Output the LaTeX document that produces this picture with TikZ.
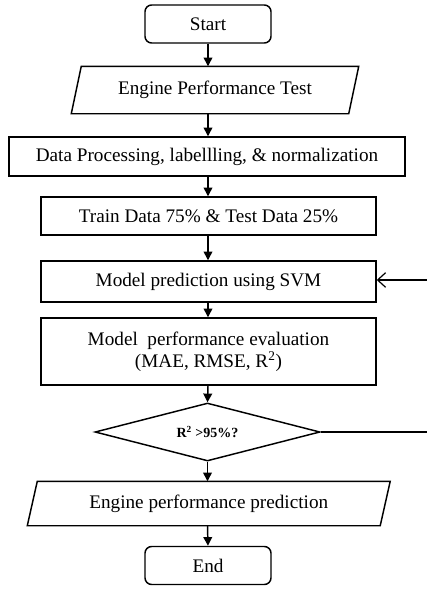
\documentclass[tikz,border=0pt]{standalone}
\usepackage{fontspec}
\setmainfont{Liberation Serif}
\usetikzlibrary{shapes.geometric,arrows.meta,calc}
\begin{document}
\begin{tikzpicture}[x=0.75pt,y=-0.75pt,
  every node/.style={font=\fontsize{14.4}{16.5}\selectfont, inner sep=0pt, line width=1.1pt},
  term/.style={draw, rounded corners=5pt, minimum width=94.5pt, minimum height=28.5pt},
  proc/.style={draw, rectangle},
  io/.style={rectangle, draw=none},
  dec/.style={draw, diamond, aspect=3.88, minimum width=168.75pt, minimum height=43.5pt},
  flow/.style={line width=1.1pt, -{Triangle[length=6.5pt,width=6.5pt]}},
  back/.style={line width=0.8pt},
  backin/.style={line width=0.8pt, -{Straight Barb[length=6pt,width=11pt,line width=0.9pt]}}]
\useasboundingbox (0,0) rectangle (427,590);

\node[term] (start) at (208,24) {Start};
\node[io, minimum width=207pt, minimum height=34.5pt] (ept) at (215,90) {Engine Performance Test};
\draw[line width=1.1pt] ($(ept.north west)+(5,0)$) -- ($(ept.north east)+(5,0)$)
  -- ($(ept.south east)+(-5,0)$) -- ($(ept.south west)+(-5,0)$) -- cycle;
\node[proc, minimum width=297pt, minimum height=29.25pt] (dp) at (207,156.5) {Data Processing, labellling, \& normalization};
\node[proc, minimum width=251.25pt, minimum height=28.5pt] (train) at (208.5,216) {Train Data 75\% \& Test Data 25\%};
\node[proc, minimum width=251.25pt, minimum height=30.75pt] (mp) at (208.5,281.5) {Model prediction using SVM};
\node[proc, align=center, minimum width=251.25pt, minimum height=50.25pt] (mpe) at (208.5,351.5) {Model\ \ performance evaluation\\(MAE, RMSE, R\textsuperscript{2})};
\node[dec, font=\fontsize{10.5}{12}\selectfont\bfseries] (chk) at (207.5,432) {R\textsuperscript{\scriptsize 2} >95\%?};
\node[io, minimum width=263.6pt, minimum height=32.25pt] (epp) at (208.75,503.5) {Engine performance prediction};
\draw[line width=1.1pt] ($(epp.north west)+(5,0)$) -- ($(epp.north east)+(5,0)$)
  -- ($(epp.south east)+(-5,0)$) -- ($(epp.south west)+(-5,0)$) -- cycle;
\node[term] (end) at (208,565.5) {End};

\coordinate (r1) at (427,432);
\coordinate (r2) at (427,280);

\draw[flow] (start.south) -- (start.south |- ept.north);
\draw[flow] (start.south |- ept.south) -- (start.south |- dp.north);
\draw[flow] (start.south |- dp.south) -- (start.south |- train.north);
\draw[flow] (start.south |- train.south) -- (start.south |- mp.north);
\draw[flow] (start.south |- mp.south) -- (start.south |- mpe.north);
\draw[flow] (start.south |- mpe.south) -- (chk.north);
\draw[flow] (chk.south) -- (chk.south |- epp.north);
\draw[flow] (chk.south |- epp.south) -- (end.north);
\draw[back] (chk.east) -- (r1);
\draw[backin] (r2) -- (r2 -| mp.east);
\end{tikzpicture}
\end{document}
